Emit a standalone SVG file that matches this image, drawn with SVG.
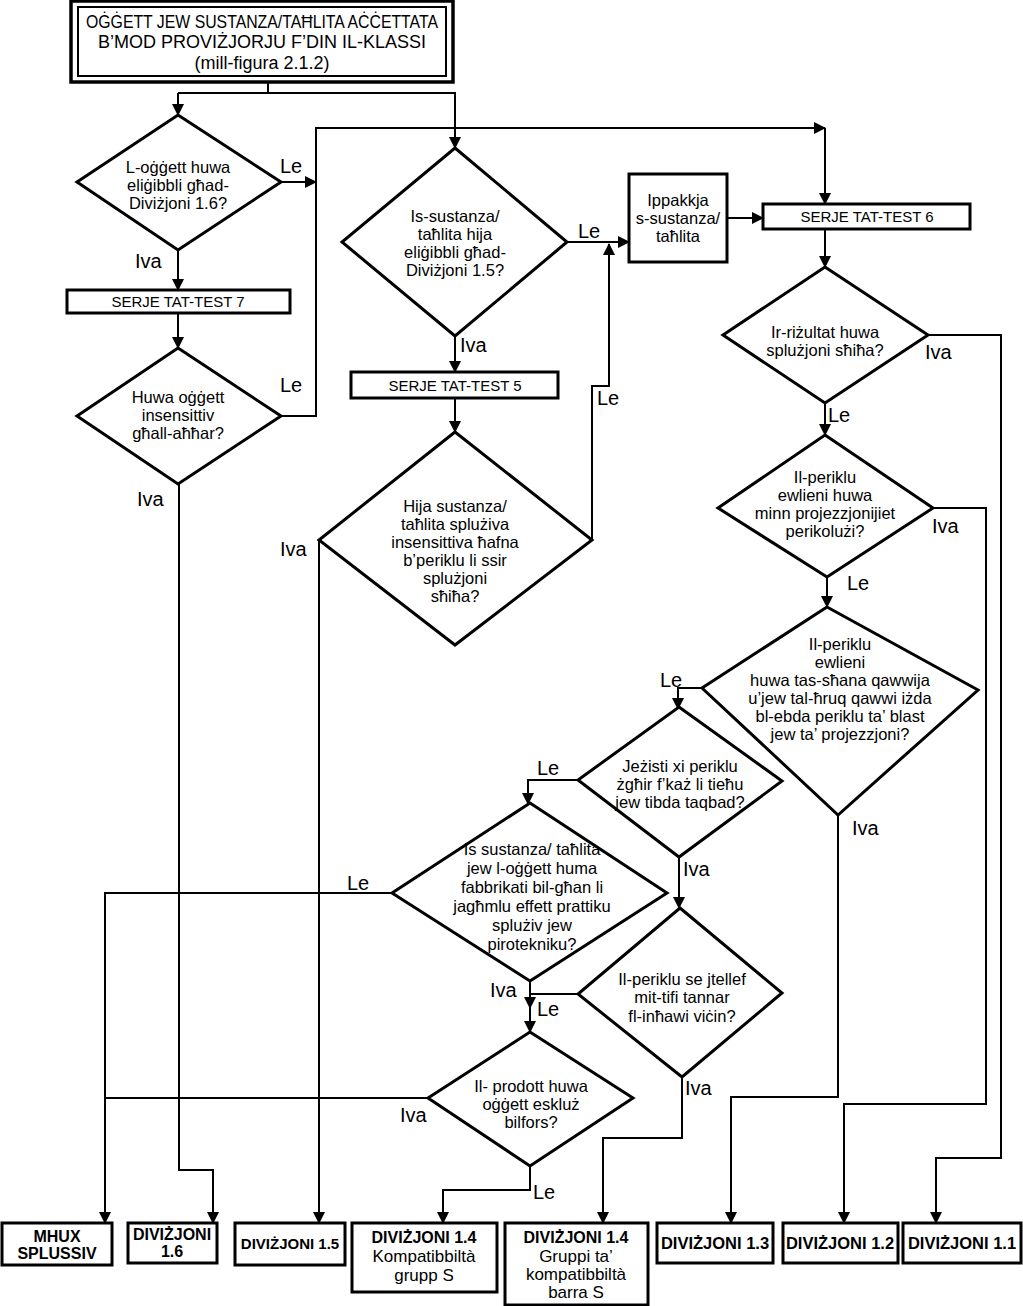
<svg xmlns="http://www.w3.org/2000/svg" width="1023" height="1306" viewBox="0 0 1023 1306">
<defs>
<marker id="ah" markerUnits="userSpaceOnUse" markerWidth="12" markerHeight="12" refX="11" refY="6" orient="auto">
<path d="M0,0 L12,6 L0,12 z" fill="#000"/>
</marker>
<style>
.shape{fill:#fff;stroke:#000;stroke-width:3;stroke-linejoin:miter}
.c path{fill:none;stroke:#000;stroke-width:2}
.c .a{marker-end:url(#ah)}
text{font-family:"Liberation Sans",Arial,sans-serif;fill:#000}
.t{font-size:16.5px;text-anchor:middle}
.s{font-size:15px;text-anchor:middle}
.lb{font-size:20px}
.b{font-size:16px;font-weight:bold;text-anchor:middle}
.r{font-size:17px;text-anchor:middle}
.h{font-size:18px;text-anchor:middle}
</style>
</defs>
<rect width="1023" height="1306" fill="#fff"/>

<g id="title">
<rect x="71" y="1" width="382" height="81" fill="#fff" stroke="#000" stroke-width="3.5"/>
<rect x="78" y="7" width="368" height="69" fill="none" stroke="#000" stroke-width="2"/>
<text class="h" x="262" y="28" textLength="352" lengthAdjust="spacingAndGlyphs">OĠĠETT JEW SUSTANZA/TAĦLITA  AĊĊETTATA</text>
<text class="h" x="262" y="48">B’MOD PROVIŻJORJU F’DIN IL-KLASSI</text>
<text class="h" x="262" y="69">(mill-figura 2.1.2)</text>
</g>

<g class="c" id="connectors">
<path d="M268,82 V93"/>
<path class="a" d="M178,93 H455 V148"/>
<path class="a" d="M178,93 V115"/>
<path class="a" d="M178,250 V290"/>
<path class="a" d="M178,313 V348"/>
<path class="a" d="M281,182 H316"/>
<path class="a" d="M281,416 H316 V128 H825"/>
<path class="a" d="M825,128 V204"/>
<path class="a" d="M179,484 V1170 H213 V1223"/>
<path class="a" d="M455,336 V372"/>
<path class="a" d="M567,242 H629"/>
<path class="a" d="M455,398 V432"/>
<path class="a" d="M592,540 V386 H609 V244"/>
<path class="a" d="M319,540 V1223"/>
<path class="a" d="M727,218 H763"/>
<path class="a" d="M825,229 V267"/>
<path class="a" d="M928,335 H1001 V1158 H936 V1223"/>
<path class="a" d="M825,403 V435"/>
<path class="a" d="M933,508 H986 V1104 H844 V1223"/>
<path class="a" d="M827,577 V607"/>
<path class="a" d="M702,688 H678 V709"/>
<path class="a" d="M838,815 V1097 H731 V1223"/>
<path class="a" d="M578,780 H528 V804"/>
<path class="a" d="M679,857 V908"/>
<path class="a" d="M392,893 H105 V1223"/>
<path class="a" d="M530,981 V1008"/>
<path class="a" d="M578,994 H530 V1032"/>
<path d="M428,1098 H105"/>
<path class="a" d="M530,1166 V1190 H443 V1223"/>
<path class="a" d="M682,1077 V1138 H603 V1223"/>
</g>

<g id="labels">
<text class="lb" x="280" y="173">Le</text>
<text class="lb" x="135" y="268">Iva</text>
<text class="lb" x="280" y="392">Le</text>
<text class="lb" x="137" y="506">Iva</text>
<text class="lb" x="578" y="238">Le</text>
<text class="lb" x="460" y="352">Iva</text>
<text class="lb" x="597" y="405">Le</text>
<text class="lb" x="280" y="556">Iva</text>
<text class="lb" x="925" y="359">Iva</text>
<text class="lb" x="828" y="422">Le</text>
<text class="lb" x="932" y="533">Iva</text>
<text class="lb" x="847" y="590">Le</text>
<text class="lb" x="660" y="687">Le</text>
<text class="lb" x="852" y="835">Iva</text>
<text class="lb" x="537" y="775">Le</text>
<text class="lb" x="683" y="876">Iva</text>
<text class="lb" x="347" y="890">Le</text>
<text class="lb" x="490" y="997">Iva</text>
<text class="lb" x="537" y="1016">Le</text>
<text class="lb" x="685" y="1095">Iva</text>
<text class="lb" x="400" y="1122">Iva</text>
<text class="lb" x="533" y="1199">Le</text>
</g>

<g id="d1">
<polygon class="shape" points="178,115 281,182 178,250 77,182"/>
<text class="t" x="178" y="173">L-oġġett huwa</text>
<text class="t" x="178" y="191">eliġibbli għad-</text>
<text class="t" x="178" y="209">Diviżjoni 1.6?</text>
</g>
<g id="serje7">
<rect class="shape" x="67" y="290" width="223" height="23"/>
<text class="s" x="178" y="307">SERJE TAT-TEST 7</text>
</g>
<g id="d3">
<polygon class="shape" points="178,348 281,416 178,484 77,416"/>
<text class="t" x="178" y="403">Huwa oġġett</text>
<text class="t" x="178" y="421">insensittiv</text>
<text class="t" x="178" y="439">għall-aħħar?</text>
</g>
<g id="d2">
<polygon class="shape" points="455,148 567,242 455,336 342,242"/>
<text class="t" x="455" y="222">Is-sustanza/</text>
<text class="t" x="455" y="240">taħlita hija</text>
<text class="t" x="455" y="258">eliġibbli għad-</text>
<text class="t" x="455" y="276">Diviżjoni 1.5?</text>
</g>
<g id="serje5">
<rect class="shape" x="351" y="372" width="207" height="26"/>
<text class="s" x="455" y="391">SERJE TAT-TEST 5</text>
</g>
<g id="d4">
<polygon class="shape" points="455,432 592,540 455,645 319,540"/>
<text class="t" x="455" y="512">Hija sustanza/</text>
<text class="t" x="455" y="530">taħlita splużiva</text>
<text class="t" x="455" y="548">insensittiva ħafna</text>
<text class="t" x="455" y="566">b’periklu li ssir</text>
<text class="t" x="455" y="584">splużjoni</text>
<text class="t" x="455" y="602">sħiħa?</text>
</g>
<g id="ippakkja">
<rect class="shape" x="629" y="174" width="98" height="88"/>
<text class="t" x="678" y="206">Ippakkja</text>
<text class="t" x="678" y="224">s-sustanza/</text>
<text class="t" x="678" y="242">taħlita</text>
</g>
<g id="serje6">
<rect class="shape" x="763" y="204" width="207" height="25"/>
<text class="s" x="867" y="222">SERJE TAT-TEST 6</text>
</g>
<g id="d5">
<polygon class="shape" points="825,267 928,335 825,403 723,335"/>
<text class="t" x="825" y="338">Ir-riżultat huwa</text>
<text class="t" x="825" y="356">splużjoni sħiħa?</text>
</g>
<g id="d6">
<polygon class="shape" points="825,435 933,508 827,577 718,508"/>
<text class="t" x="825" y="483">Il-periklu</text>
<text class="t" x="825" y="501">ewlieni huwa</text>
<text class="t" x="825" y="519">minn projezzjonijiet</text>
<text class="t" x="825" y="537">perikolużi?</text>
</g>
<g id="d7">
<polygon class="shape" points="827,607 978,690 838,815 702,688"/>
<text class="t" x="840" y="650">Il-periklu</text>
<text class="t" x="840" y="668">ewlieni</text>
<text class="t" x="840" y="686">huwa tas-sħana qawwija</text>
<text class="t" x="840" y="704">u’jew tal-ħruq qawwi iżda</text>
<text class="t" x="840" y="722">bl-ebda periklu ta’ blast</text>
<text class="t" x="840" y="740">jew ta’ projezzjoni?</text>
</g>
<g id="d8">
<polygon class="shape" points="679,707 782,781 679,857 578,780"/>
<text class="t" x="680" y="772">Jeżisti xi periklu</text>
<text class="t" x="680" y="790">żgħir f’każ li tieħu</text>
<text class="t" x="680" y="808">jew tibda taqbad?</text>
</g>
<g id="d9">
<polygon class="shape" points="530,803 667,893 530,981 392,893"/>
<text class="t" x="532" y="855">Is sustanza/ taħlita</text>
<text class="t" x="532" y="874">jew l-oġġett huma</text>
<text class="t" x="532" y="893">fabbrikati bil-għan li</text>
<text class="t" x="532" y="912">jagħmlu effett prattiku</text>
<text class="t" x="532" y="931">splużiv jew</text>
<text class="t" x="532" y="950">pirotekniku?</text>
</g>
<g id="d10">
<polygon class="shape" points="680,908 782,993 682,1077 578,994"/>
<text class="t" x="682" y="985">Il-periklu se jtellef</text>
<text class="t" x="682" y="1003">mit-tifi tannar</text>
<text class="t" x="682" y="1022">fl-inħawi viċin?</text>
</g>
<g id="d11">
<polygon class="shape" points="530,1032 633,1098 530,1166 428,1098"/>
<text class="t" x="531" y="1092">Il- prodott huwa</text>
<text class="t" x="531" y="1110">oġġett eskluż</text>
<text class="t" x="531" y="1128">bilfors?</text>
</g>

<g id="mhux">
<rect class="shape" x="2" y="1223" width="110" height="42"/>
<text class="b" x="57" y="1242">MHUX</text>
<text class="b" x="57" y="1259">SPLUSSIV</text>
</g>
<g id="div16">
<rect class="shape" x="128" y="1223" width="89" height="40"/>
<text class="b" x="172" y="1240">DIVIŻJONI</text>
<text class="b" x="172" y="1257">1.6</text>
</g>
<g id="div15">
<rect class="shape" x="235" y="1223" width="110" height="42"/>
<text class="b" x="290" y="1249" style="font-size:15px">DIVIŻJONI 1.5</text>
</g>
<g id="div14s">
<rect class="shape" x="352" y="1223" width="145" height="69"/>
<text class="b" x="424" y="1243">DIVIŻJONI 1.4</text>
<text class="r" x="424" y="1262">Kompatibbiltà</text>
<text class="r" x="424" y="1281">grupp S</text>
</g>
<g id="div14">
<rect class="shape" x="505" y="1223" width="143" height="82"/>
<text class="b" x="576" y="1243">DIVIŻJONI 1.4</text>
<text class="r" x="576" y="1262">Gruppi ta’</text>
<text class="r" x="576" y="1280">kompatibbiltà</text>
<text class="r" x="576" y="1298">barra S</text>
</g>
<g id="div13">
<rect class="shape" x="657" y="1223" width="116" height="40"/>
<text class="b" x="715" y="1249" style="font-size:16.5px">DIVIŻJONI 1.3</text>
</g>
<g id="div12">
<rect class="shape" x="783" y="1223" width="115" height="40"/>
<text class="b" x="840" y="1249" style="font-size:16.5px">DIVIŻJONI 1.2</text>
</g>
<g id="div11">
<rect class="shape" x="903" y="1223" width="118" height="40"/>
<text class="b" x="962" y="1249" style="font-size:16.5px">DIVIŻJONI 1.1</text>
</g>
</svg>
